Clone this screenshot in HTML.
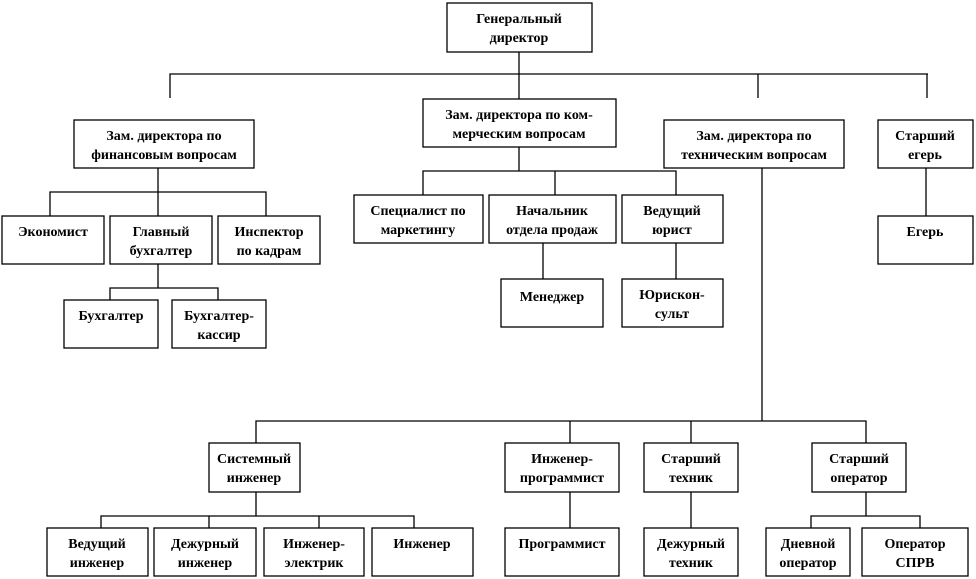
<!DOCTYPE html>
<html><head><meta charset="utf-8"><style>
html,body{margin:0;padding:0;background:#fff;}
svg{display:block}
text{font-family:"Liberation Serif","DejaVu Serif",serif;font-weight:bold;font-size:14px;fill:#000;text-anchor:middle;letter-spacing:0px}
rect{fill:#fff;stroke:#000;stroke-width:1.3}
line,path{stroke:#000;stroke-width:1.3;fill:none}
</style></head><body>
<svg width="976" height="579" viewBox="0 0 976 579" xmlns="http://www.w3.org/2000/svg">
<path d="M519 52V99 M170 98V74H928 M758 74V98 M927 74V98"/>
<path d="M158 168V192 M50 216V192H266V216 M158 192V216"/>
<path d="M158 264V288 M110 300V288H218V300"/>
<path d="M519 147V171 M423 195V171H676V195 M555 171V195"/>
<path d="M543 243V279 M676 243V279"/>
<path d="M926 168V216"/>
<path d="M762 168V421 M256 443V421H866V443 M570 421V443 M691 421V443"/>
<path d="M256 492V516 M101 528V516H414V528 M209 516V528 M319 516V528"/>
<path d="M570 492V528 M691 492V528"/>
<path d="M866 492V516 M811 528V516H920V528"/>

<rect x="447" y="3" width="145" height="49"/>
<text x="519" y="23">Генеральный</text><text x="519" y="42">директор</text>

<rect x="74" y="120" width="180" height="48"/>
<text x="164" y="140">Зам. директора по</text><text x="164" y="159">финансовым вопросам</text>

<rect x="423" y="99" width="193" height="48"/>
<text x="519" y="119">Зам. директора по ком-</text><text x="519" y="138">мерческим вопросам</text>

<rect x="664" y="120" width="180" height="48"/>
<text x="754" y="140">Зам. директора по</text><text x="754" y="159">техническим вопросам</text>

<rect x="878" y="120" width="95" height="48"/>
<text x="925" y="140">Старший</text><text x="925" y="159">егерь</text>

<rect x="878" y="216" width="95" height="48"/>
<text x="925" y="236">Егерь</text>

<rect x="2" y="216" width="102" height="48"/>
<text x="53" y="236">Экономист</text>
<rect x="110" y="216" width="102" height="48"/>
<text x="161" y="236">Главный</text><text x="161" y="255">бухгалтер</text>
<rect x="218" y="216" width="102" height="48"/>
<text x="269" y="236">Инспектор</text><text x="269" y="255">по кадрам</text>

<rect x="64" y="300" width="94" height="48"/>
<text x="111" y="320">Бухгалтер</text>
<rect x="172" y="300" width="94" height="48"/>
<text x="219" y="320">Бухгалтер-</text><text x="219" y="339">кассир</text>

<rect x="354" y="195" width="129" height="48"/>
<text x="418" y="215">Специалист по</text><text x="418" y="234">маркетингу</text>
<rect x="489" y="195" width="127" height="48"/>
<text x="552" y="215">Начальник</text><text x="552" y="234">отдела продаж</text>
<rect x="622" y="195" width="101" height="48"/>
<text x="672" y="215">Ведущий</text><text x="672" y="234">юрист</text>

<rect x="501" y="279" width="102" height="48"/>
<text x="552" y="301">Менеджер</text>
<rect x="622" y="279" width="101" height="48"/>
<text x="672" y="299">Юрискон-</text><text x="672" y="318">сульт</text>

<rect x="209" y="443" width="91" height="49"/>
<text x="254" y="463">Системный</text><text x="254" y="482">инженер</text>
<rect x="505" y="443" width="114" height="49"/>
<text x="562" y="463">Инженер-</text><text x="562" y="482">программист</text>
<rect x="644" y="443" width="94" height="49"/>
<text x="691" y="463">Старший</text><text x="691" y="482">техник</text>
<rect x="812" y="443" width="94" height="49"/>
<text x="859" y="463">Старший</text><text x="859" y="482">оператор</text>

<rect x="47" y="528" width="101" height="48"/>
<text x="97" y="548">Ведущий</text><text x="97" y="567">инженер</text>
<rect x="154" y="528" width="102" height="48"/>
<text x="205" y="548">Дежурный</text><text x="205" y="567">инженер</text>
<rect x="264" y="528" width="100" height="48"/>
<text x="314" y="548">Инженер-</text><text x="314" y="567">электрик</text>
<rect x="372" y="528" width="101" height="48"/>
<text x="422" y="548">Инженер</text>
<rect x="505" y="528" width="114" height="48"/>
<text x="562" y="548">Программист</text>
<rect x="644" y="528" width="94" height="48"/>
<text x="691" y="548">Дежурный</text><text x="691" y="567">техник</text>
<rect x="766" y="528" width="84" height="48"/>
<text x="808" y="548">Дневной</text><text x="808" y="567">оператор</text>
<rect x="862" y="528" width="106" height="48"/>
<text x="915" y="548">Оператор</text><text x="915" y="567">СПРВ</text>
</svg>
</body></html>
